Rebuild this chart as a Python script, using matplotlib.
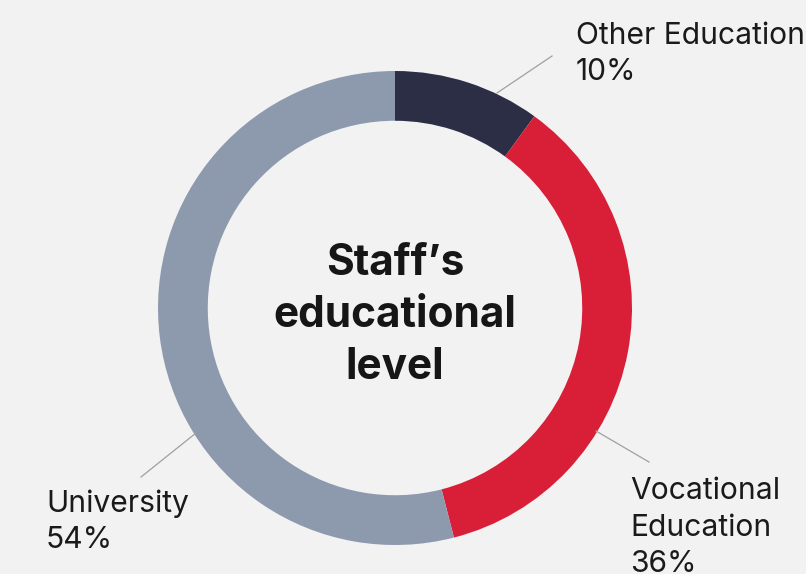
import matplotlib.pyplot as plt

# staff education breakdown
categories = ['Other Education', 'Vocational Education', 'University']
shares = [10, 36, 54]
label_lines = [['Other Education'], ['Vocational', 'Education'], ['University']]
colors = ['#2b2e45', '#d91f37', '#8d9aae']

W, H = 806, 574
BG = '#f2f2f2'

fig = plt.figure(figsize=(W / 100, H / 100), dpi=100, facecolor=BG)
ax = fig.add_axes([0, 0, 1, 1])
ax.set_facecolor(BG)


def py(y):
    # pixel row (from top) to data y
    return H - y


cx, cy, r = 395, py(308), 237
ax.pie(shares, colors=colors, startangle=90, counterclock=False,
       center=(cx, cy), radius=r, frame=True,
       wedgeprops=dict(width=r * 0.21, linewidth=0))

ax.set_xlim(0, W)
ax.set_ylim(0, H)
ax.set_aspect('equal')
ax.axis('off')

font = 'Inter'
title_lines = ["Staff\u2019s", 'educational', 'level']
for i, t in enumerate(title_lines):
    ax.text(cx, py(275 + i * 52), t, ha='center', va='baseline',
            fontsize=30.5, fontweight='bold', family=font, color='#161616')

# leader lines and labels
leaders = [((497, 93), (552, 56)), ((596, 431), (649, 462)), ((196, 433), (141, 477))]
label_pos = [(576, 44), (630, 499), (46, 512)]
line_gap = 36.5
for lines, share, (p0, p1), (lx, ly) in zip(label_lines, shares, leaders, label_pos):
    ax.plot([p0[0], p1[0]], [py(p0[1]), py(p1[1])], color='#a0a0a0', lw=0.9)
    for i, t in enumerate(lines + [f'{share}%']):
        ax.text(lx, py(ly + i * line_gap), t, ha='left', va='baseline',
                fontsize=21.6, family=font, color='#1a1a1a')

fig.savefig('out.png', dpi=100, facecolor=BG)
